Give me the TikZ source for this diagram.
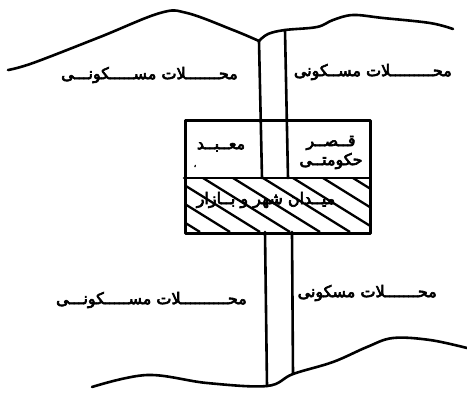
\documentclass[tikz,border=0pt]{standalone}
\usepackage{fontspec}
\newfontfamily\arabicfont[Script=Arabic, FakeBold=4]{DejaVu Sans}
\TeXXeTstate=1
\tikzset{
  ink/.style={line width=2.6pt, line cap=round, line join=round},
  hatchline/.style={line width=2.3pt},
  lbl/.style={font=\arabicfont\fontsize{16}{18}\selectfont, inner sep=0pt},
}
\begin{document}
\begin{tikzpicture}[x=1pt,y=-1pt]
\useasboundingbox (0,0) rectangle (467,392);
% top hills
\draw[ink] plot[smooth, tension=0.6] coordinates {(8,70) (33,63) (100,37) (160,13) (187,13) (233,30) (259,41)};
\draw[ink] plot[smooth, tension=0.6] coordinates {(259,41) (268,34) (285,30) (317,27) (333,20) (353,15) (383,18) (430,23) (453,29)};
% bottom hills
\draw[ink] plot[smooth, tension=0.6] coordinates {(92,387) (147,375) (207,383) (267,386) (293,374) (333,362) (367,347) (393,338) (430,340) (467,348)};
% road
\coordinate (rl1) at (259,41);
\coordinate (rl2) at (262,178);
\coordinate (rl3) at (265,232);
\coordinate (rl4) at (267,386);
\coordinate (rr1) at (285,30);
\coordinate (rr2) at (288,178);
\coordinate (rr3) at (292,232);
\coordinate (rr4) at (293,374);
\draw[ink] (rl1) -- (rl2);
\draw[ink] (rr1) -- (rr2);
\draw[ink] (rl3) -- (rl4);
\draw[ink] (rr3) -- (rr4);
% box
\node[draw, ink, minimum width=185pt, minimum height=113pt, inner sep=0pt, anchor=north west] (box) at (184,119) {};
\draw[ink] (184,178) -- (369,178);
% hatching
\begin{scope}
\clip (184,178) rectangle (369,232);
\foreach \k in {-4,...,6} {
  \draw[hatchline] ({203+30*\k},178) -- ({290+30*\k},232);
}
\end{scope}
% labels
\node[lbl, anchor=east] (tl) at (238,75) {\beginR محـــــــلات مســـــکونـــی\endR};
\node[lbl, anchor=east] (tr) at (452,72) {\beginR محـــــــــلات مســکونی\endR};
\node[lbl, anchor=east] (bl) at (247,300) {\beginR محــــــــــلات مســـــکونـــی\endR};
\node[lbl, anchor=east] (br) at (437,293) {\beginR محـــــــلات مسکونی\endR};
\node[lbl] (maabad) at (221,147) {\beginR معــبــد\endR};
\node[lbl, font=\arabicfont\fontsize{8}{9}\selectfont] (mark) at (195,166) {\beginR ،\endR};
\node[lbl] (qasr) at (331,143) {\beginR قــصــر\endR};
\node[lbl] (hokumati) at (331,161) {\beginR حکومتــی\endR};
\node[lbl] (meydan) at (266,200) {\beginR میــدان شهر و بــازار\endR};
\end{tikzpicture}
\end{document}
